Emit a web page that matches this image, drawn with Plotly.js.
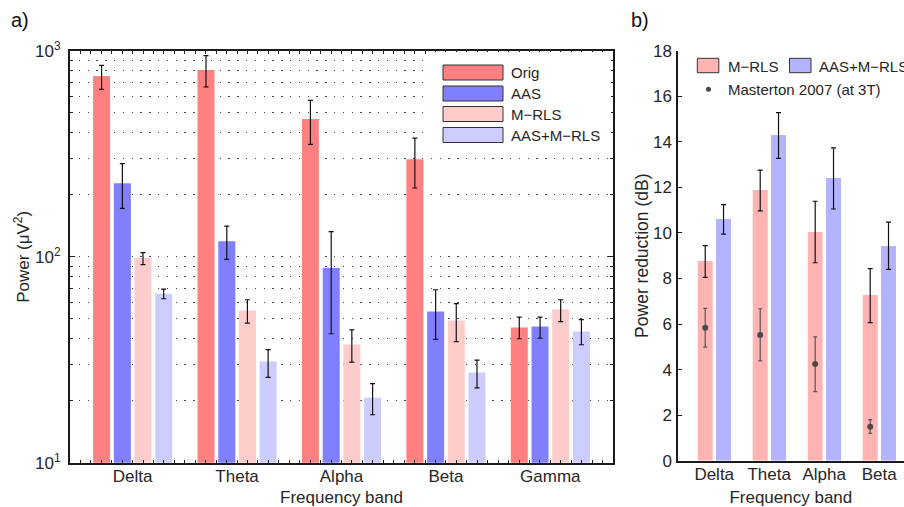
<!DOCTYPE html>
<html>
<head>
<meta charset="utf-8">
<script src="https://cdn.plot.ly/plotly-3.0.1.min.js"></script>
<style>html,body{margin:0;padding:0;background:#fff;}#chart{width:904px;height:507px;}</style>
</head>
<body>
<div id="chart"></div>
<script>
// ---- Panel a) data: power per frequency band (µV^2) ----
const categories = ['Delta', 'Theta', 'Alpha', 'Beta', 'Gamma'];
const origPower    = [755, 808, 467, 298, 45.4];
const origUpper    = [852, 949, 575, 377, 50.9];
const origLower    = [651, 670, 352, 216, 40.0];
const aasPower     = [228, 119, 88.3, 54.3, 45.9];
const aasUpper     = [284, 141, 132.6, 69.2, 50.9];
const aasLower     = [172, 97.3, 42.3, 39.7, 40.3];
const mrlsPower    = [98.7, 54.9, 37.5, 49.1, 55.6];
const mrlsUpper    = [104.8, 61.9, 44.2, 59.2, 61.9];
const mrlsLower    = [91.6, 47.6, 30.8, 38.7, 48.5];
const aasMrlsPower = [66.2, 31.0, 20.7, 27.4, 43.4];
const aasMrlsUpper = [69.7, 35.4, 24.2, 31.5, 49.5];
const aasMrlsLower = [62.6, 26.0, 17.1, 23.1, 37.4];
const powerTickValues = [10, 100, 1000];
const powerTickLabels = ['10<sup>1</sup>', '10<sup>2</sup>', '10<sup>3</sup>'];

// ---- Panel b) data: power reduction (dB) ----
const reductionBands     = ['Delta', 'Theta', 'Alpha', 'Beta'];
const mrlsReduction      = [8.77, 11.88, 10.04, 7.27];
const mrlsRedUpper       = [9.44, 12.76, 11.39, 8.43];
const mrlsRedLower       = [8.05, 10.97, 8.69, 6.06];
const aasMrlsReduction   = [10.61, 14.30, 12.41, 9.43];
const aasMrlsRedUpper    = [11.24, 15.28, 13.73, 10.47];
const aasMrlsRedLower    = [9.95, 13.27, 11.05, 8.40];
const mastertonReduction = [5.84, 5.52, 4.24, 1.49];
const mastertonUpper     = [6.69, 6.67, 5.44, 1.80];
const mastertonLower     = [4.99, 4.38, 3.03, 1.20];
const reductionTicks     = [0, 2, 4, 6, 8, 10, 12, 14, 16, 18];

// ---- helpers ----
const W = 904, H = 507;
const px = x => x / W;
const py = y => 1 - y / H;
const up = (v, u) => u.map((x, i) => x - v[i]);
const dn = (v, l) => l.map((x, i) => v[i] - x);
const FONT = '"Liberation Sans", Arial, Helvetica, sans-serif';
const TXT = '#262626';

const idxA = categories.map((_, i) => i);
const idxB = reductionBands.map((_, i) => i);

const barW_A = 0.163;
const offsA = [-0.379, -0.180, 0.0175, 0.216];
const barW_B = 0.2727;
const offsB = [-0.300, 0.033];

function barA(name, vals, upper, lower, color, k) {
  return {
    type: 'bar', name: name, x: idxA, y: vals, xaxis: 'x', yaxis: 'y',
    width: barW_A, offset: offsA[k],
    marker: {color: color, line: {width: 0}},
    error_y: {type: 'data', symmetric: false, array: up(vals, upper), arrayminus: dn(vals, lower),
              color: '#111', thickness: 1.2, width: 2.5},
    showlegend: false, hoverinfo: 'skip'
  };
}
function barB(name, vals, upper, lower, color, k) {
  return {
    type: 'bar', name: name, x: idxB, y: vals, xaxis: 'x2', yaxis: 'y2',
    width: barW_B, offset: offsB[k],
    marker: {color: color, line: {width: 0}},
    error_y: {type: 'data', symmetric: false, array: up(vals, upper), arrayminus: dn(vals, lower),
              color: '#111', thickness: 1.2, width: 2.5},
    showlegend: false, hoverinfo: 'skip'
  };
}

const traces = [
  barA('Orig', origPower, origUpper, origLower, '#FF8080', 0),
  barA('AAS', aasPower, aasUpper, aasLower, '#8080FF', 1),
  barA('M\u2212RLS', mrlsPower, mrlsUpper, mrlsLower, '#FFCCCC', 2),
  barA('AAS+M\u2212RLS', aasMrlsPower, aasMrlsUpper, aasMrlsLower, '#CCCCFF', 3),
  barB('M\u2212RLS', mrlsReduction, mrlsRedUpper, mrlsRedLower, '#FFB3B3', 0),
  barB('AAS+M\u2212RLS', aasMrlsReduction, aasMrlsRedUpper, aasMrlsRedLower, '#B3B3FF', 1),
  {
    type: 'scatter', mode: 'markers', name: 'Masterton 2007 (at 3T)',
    x: idxB.map(i => i + offsB[0] + barW_B / 2), y: mastertonReduction,
    xaxis: 'x2', yaxis: 'y2',
    marker: {color: '#4a4a4a', size: 6},
    error_y: {type: 'data', symmetric: false, array: up(mastertonReduction, mastertonUpper),
              arrayminus: dn(mastertonReduction, mastertonLower), color: '#555', thickness: 1.2, width: 2},
    showlegend: false, hoverinfo: 'skip'
  }
];

// minor grid values for the log axis
const minorVals = [];
[10, 100].forEach(d => { for (let m = 2; m <= 9; m++) minorVals.push(m * d); });

const shapes = [];
const annotations = [];

// legend a)
shapes.push({type: 'rect', xref: 'paper', yref: 'paper', layer: 'above',
  x0: px(428), x1: px(611), y0: py(150), y1: py(52), fillcolor: '#fff', line: {width: 0}});
const legA = [['Orig', '#FF8080', 72.5], ['AAS', '#8080FF', 93.5], ['M\u2212RLS', '#FFCCCC', 114], ['AAS+M\u2212RLS', '#CCCCFF', 135]];
legA.forEach(([t, c, yc]) => {
  shapes.push({type: 'rect', xref: 'paper', yref: 'paper', layer: 'above',
    x0: px(443), x1: px(503), y0: py(yc + 7.5), y1: py(yc - 7.5), fillcolor: c, line: {color: '#333', width: 1}});
  annotations.push({xref: 'paper', yref: 'paper', x: px(509), y: py(yc), xanchor: 'left', yanchor: 'middle',
    text: t, showarrow: false, font: {size: 15, color: TXT, family: FONT}});
});

// legend b)
[['M\u2212RLS', '#FFB3B3', 697.3, 726], ['AAS+M\u2212RLS', '#B3B3FF', 789.5, 817]].forEach(([t, c, x0, tx]) => {
  shapes.push({type: 'rect', xref: 'paper', yref: 'paper', layer: 'above',
    x0: px(x0), x1: px(x0 + 21.5), y0: py(72.7), y1: py(58.3), fillcolor: c, line: {color: '#333', width: 1}});
  annotations.push({xref: 'paper', yref: 'paper', x: px(tx), y: py(66), xanchor: 'left', yanchor: 'middle',
    text: t, showarrow: false, font: {size: 15, color: TXT, family: FONT}});
});
shapes.push({type: 'circle', xref: 'paper', yref: 'paper', layer: 'above',
  x0: px(706), x1: px(711), y0: py(91.8), y1: py(86.8), fillcolor: '#4a4a4a', line: {width: 0}});
annotations.push({xref: 'paper', yref: 'paper', x: px(726), y: py(89), xanchor: 'left', yanchor: 'middle',
  text: 'Masterton 2007 (at 3T)', showarrow: false, font: {size: 15, color: TXT, family: FONT}});

// panel labels
annotations.push({xref: 'paper', yref: 'paper', x: px(9), y: py(20), xanchor: 'left', yanchor: 'middle',
  text: 'a)', showarrow: false, font: {size: 20, color: '#111', family: FONT}});
annotations.push({xref: 'paper', yref: 'paper', x: px(629), y: py(20), xanchor: 'left', yanchor: 'middle',
  text: 'b)', showarrow: false, font: {size: 20, color: '#111', family: FONT}});

const layout = {
  width: W, height: H,
  margin: {l: 0, r: 0, t: 0, b: 0, pad: 0},
  paper_bgcolor: '#fff', plot_bgcolor: '#fff',
  font: {family: FONT, size: 17, color: TXT},
  showlegend: false,
  barmode: 'overlay',
  xaxis: {
    domain: [px(70), px(613)], range: [-0.6, 4.6],
    tickmode: 'array', tickvals: idxA, ticktext: categories,
    ticks: 'inside', ticklen: 3, tickcolor: '#222',
    minor: {dtick: 0.1, tick0: 0, ticks: 'inside', ticklen: 3, tickcolor: '#222'},
    showline: true, linecolor: '#1a1a1a', linewidth: 2, mirror: 'ticks',
    showgrid: false, zeroline: false, anchor: 'y',
    tickfont: {size: 17, color: TXT}, ticklabelstandoff: -3,
    title: {text: 'Frequency band', font: {size: 17, color: TXT}, standoff: 9}
  },
  yaxis: {
    domain: [py(462.7), py(51)], type: 'log', range: [1, 3],
    tickmode: 'array', tickvals: powerTickValues, ticktext: powerTickLabels,
    ticks: 'inside', ticklen: 5, tickcolor: '#222',
    minor: {tickmode: 'array', tickvals: minorVals, ticks: 'inside', ticklen: 3, tickcolor: '#222',
            showgrid: true, gridcolor: '#444', gridwidth: 1, griddash: '1.3px,7.5px'},
    showgrid: true, gridcolor: '#444', gridwidth: 1, griddash: '1.3px,7.5px',
    showline: true, linecolor: '#1a1a1a', linewidth: 2, mirror: 'ticks',
    zeroline: false, anchor: 'x',
    tickfont: {size: 17, color: TXT}, ticklabelstandoff: 4,
    title: {text: 'Power (\u03bcV<sup>2</sup>)', font: {size: 17, color: TXT}, standoff: 1}
  },
  xaxis2: {
    domain: [px(677.7), 1], range: [-0.664, 3.451],
    tickmode: 'array', tickvals: idxB, ticktext: reductionBands,
    ticks: '', showline: true, linecolor: '#1a1a1a', linewidth: 2,
    showgrid: false, zeroline: false, anchor: 'y2',
    tickfont: {size: 17, color: TXT}, ticklabelstandoff: -3,
    title: {text: 'Frequency band', font: {size: 17, color: TXT}, standoff: 9}
  },
  yaxis2: {
    domain: [py(460.7), py(50.7)], range: [0, 18],
    tickmode: 'array', tickvals: reductionTicks,
    ticks: 'inside', ticklen: 4, tickcolor: '#222',
    showline: true, linecolor: '#1a1a1a', linewidth: 1.3,
    showgrid: false, zeroline: false, anchor: 'x2',
    tickfont: {size: 17, color: TXT}, ticklabelstandoff: 1,
    title: {text: 'Power reduction (dB)', font: {size: 17.5, color: TXT}, standoff: 0}
  },
  shapes: shapes,
  annotations: annotations
};

Plotly.newPlot('chart', traces, layout, {displayModeBar: false, staticPlot: true});
</script>
</body>
</html>
